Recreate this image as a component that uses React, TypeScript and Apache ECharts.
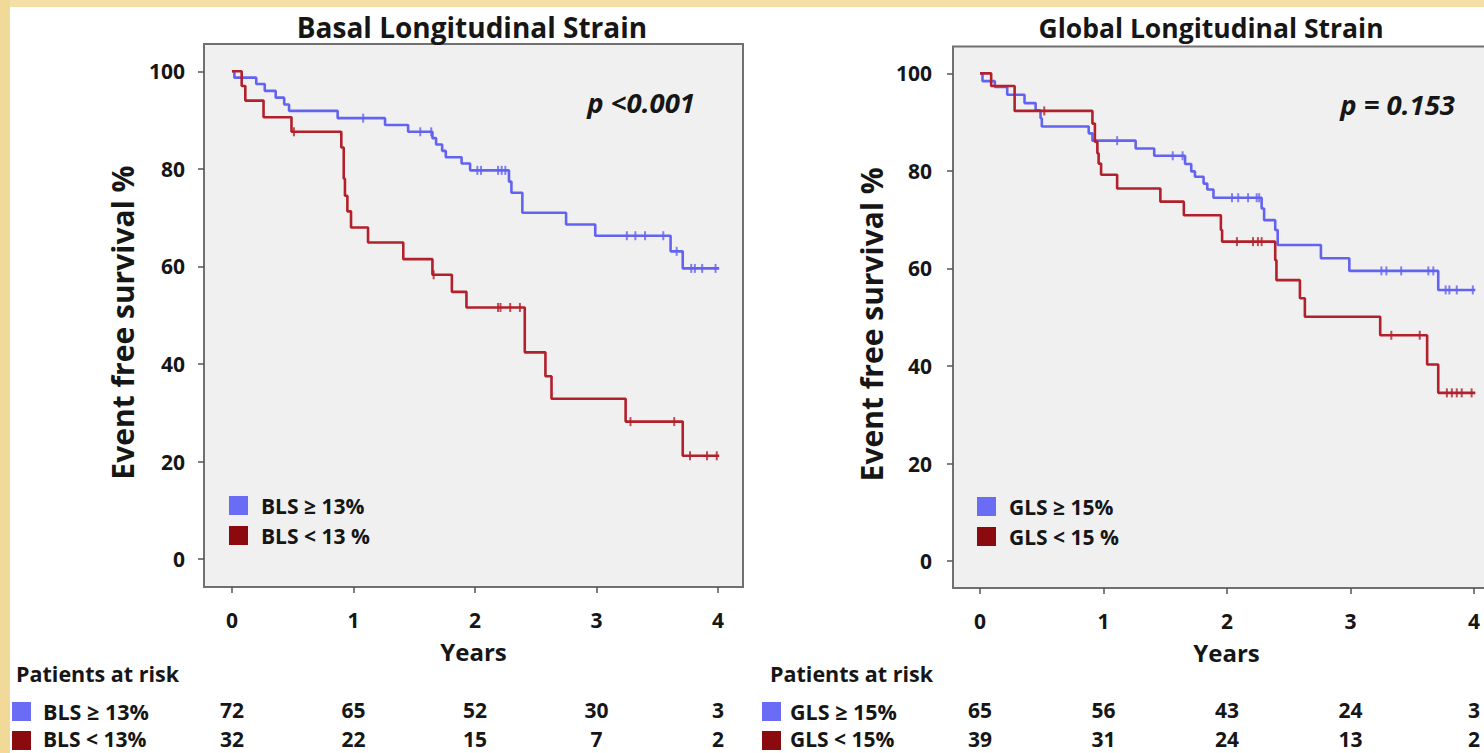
import React, { useEffect, useRef } from "react";
import * as echarts from "echarts";

const FONT = "'Open Sans', Lato, sans-serif";
const TEXT = "#161616";
const BLUE = "#6363f2";
const RED = "#b2202b";
const LEG_BLUE = "#6a6cf6";
const LEG_RED = "#8a0a0e";

const yearTicks = [0, 1, 2, 3, 4];
const survivalTicks = [0, 20, 40, 60, 80, 100];

// Basal Longitudinal Strain
const blsHighName = "BLS ≥ 13%";
const blsLowName = "BLS < 13 %";
const blsHighTime = [0, 0.02, 0.2, 0.27, 0.36, 0.43, 0.47, 0.87, 1.26, 1.45, 1.65, 1.68, 1.73, 1.76, 1.89, 1.96, 2.28, 2.3, 2.39, 2.75, 2.99, 3.61, 3.71, 4.01];
const blsHighSurv = [100, 98.7, 97.4, 96.0, 94.6, 93.2, 91.9, 90.4, 89.0, 87.6, 86.3, 85.0, 83.7, 82.4, 81.1, 79.7, 77.4, 75.1, 71.0, 68.6, 66.3, 63.1, 59.6, 59.6];
const blsHighCensor = [1.08, 1.55, 1.64, 2.02, 2.05, 2.19, 2.22, 2.25, 3.25, 3.32, 3.4, 3.55, 3.66, 3.78, 3.81, 3.87, 3.98];
const blsLowTime = [0, 0.08, 0.11, 0.26, 0.49, 0.9, 0.92, 0.93, 0.95, 0.98, 1.12, 1.41, 1.65, 1.81, 1.93, 2.41, 2.58, 2.63, 3.24, 3.71, 4.01];
const blsLowSurv = [100, 97.0, 94.0, 90.6, 87.6, 84.4, 78.0, 74.5, 71.3, 68.0, 64.9, 61.5, 58.3, 54.8, 51.6, 42.4, 37.5, 32.9, 28.2, 21.2, 21.2];
const blsLowCensor = [0.51, 1.66, 2.19, 2.21, 2.29, 2.37, 3.28, 3.64, 3.77, 3.91, 3.99];
const blsHighAtRisk = [72, 65, 52, 30, 3];
const blsLowAtRisk = [32, 22, 15, 7, 2];

// Global Longitudinal Strain
const glsHighName = "GLS ≥ 15%";
const glsLowName = "GLS < 15 %";
const glsHighTime = [0, 0.02, 0.12, 0.22, 0.36, 0.45, 0.49, 0.5, 0.88, 0.91, 1.26, 1.41, 1.66, 1.71, 1.74, 1.81, 1.84, 1.89, 2.28, 2.3, 2.39, 2.41, 2.76, 2.99, 3.71, 4.01];
const glsHighSurv = [100, 98.4, 97.2, 95.6, 93.9, 92.4, 90.8, 89.1, 87.7, 86.2, 84.6, 83.1, 81.4, 79.9, 78.8, 77.4, 76.2, 74.5, 72.3, 69.9, 67.9, 64.8, 62.1, 59.5, 55.6, 55.6];
const glsHighCensor = [1.11, 1.56, 1.64, 2.04, 2.09, 2.17, 2.24, 2.26, 3.25, 3.29, 3.41, 3.63, 3.67, 3.77, 3.8, 3.86, 3.99];
const glsLowTime = [0, 0.09, 0.28, 0.91, 0.93, 0.95, 0.96, 0.98, 1.11, 1.46, 1.65, 1.95, 1.96, 2.39, 2.4, 2.59, 2.63, 3.24, 3.62, 3.71, 4.01];
const glsLowSurv = [100, 97.4, 92.3, 89.7, 86.0, 83.6, 81.5, 79.2, 76.4, 73.7, 70.9, 67.9, 65.5, 61.7, 57.6, 53.9, 50.1, 46.3, 40.3, 34.5, 34.5];
const glsLowCensor = [0.52, 2.08, 2.21, 2.25, 2.28, 3.33, 3.56, 3.78, 3.82, 3.86, 3.9, 3.98];
const glsHighAtRisk = [65, 56, 43, 24, 3];
const glsLowAtRisk = [39, 31, 24, 13, 2];

function survAt(times: number[], surv: number[], t: number) {
  let s = surv[0];
  for (let i = 0; i < times.length; i++) if (times[i] <= t) s = surv[i];
  return s;
}

const boldText = (size: number) => ({
  fontFamily: FONT,
  fontWeight: "bold" as const,
  fontSize: size,
  color: TEXT,
});

function mainX(gridIndex: number, min: number, max: number) {
  return {
    type: "value",
    gridIndex,
    min,
    max,
    axisLine: { show: false, onZero: false },
    splitLine: { show: false },
    axisTick: { show: true, length: 6, customValues: yearTicks, lineStyle: { color: "#555", width: 1.5 } },
    axisLabel: { customValues: yearTicks, margin: 22, ...boldText(21) },
    name: "Years",
    nameLocation: "middle",
    nameGap: 52,
    nameTextStyle: boldText(24),
  };
}

function riskX(gridIndex: number, min: number, max: number, offset: number, counts: number[]) {
  return {
    type: "value",
    gridIndex,
    min,
    max,
    position: "bottom",
    offset,
    axisLine: { show: false, onZero: false },
    axisTick: { show: false },
    splitLine: { show: false },
    axisLabel: {
      customValues: yearTicks,
      margin: 0,
      lineHeight: 20,
      formatter: (v: number) => String(counts[yearTicks.indexOf(Math.round(v))]),
      ...boldText(21),
    },
  };
}

function mainY(gridIndex: number, min: number, max: number, margin: number) {
  return {
    type: "value",
    gridIndex,
    min,
    max,
    axisLine: { show: false, onZero: false },
    splitLine: { show: false },
    axisTick: { show: true, length: 6, customValues: survivalTicks, lineStyle: { color: "#555", width: 1.5 } },
    axisLabel: { customValues: survivalTicks, margin, ...boldText(21) },
    name: "Event free survival %",
    nameLocation: "middle",
    nameRotate: 90,
    nameGap: 67,
    nameTextStyle: { ...boldText(30), padding: [0, 14, 0, 0] },
  };
}

function kmSeries(name: string, axis: number, times: number[], surv: number[], color: string) {
  return {
    name,
    type: "line",
    xAxisIndex: axis,
    yAxisIndex: axis,
    step: "end",
    symbol: "none",
    data: times.map((t, i) => [t, surv[i]]),
    lineStyle: { color, width: 2.6 },
    itemStyle: { color },
    z: 3,
  };
}

function censorSeries(name: string, axis: number, times: number[], surv: number[], censor: number[], color: string) {
  return {
    name: name + " censored",
    type: "scatter",
    xAxisIndex: axis,
    yAxisIndex: axis,
    symbol: "rect",
    symbolSize: [2, 9],
    data: censor.map((t) => [t, survAt(times, surv, t)]),
    itemStyle: { color },
    silent: true,
    z: 4,
  };
}

function legendFor(names: string[], left: number, top: number) {
  return {
    orient: "vertical",
    left,
    top,
    icon: "rect",
    itemWidth: 19,
    itemHeight: 19,
    itemGap: 9,
    padding: 0,
    selectedMode: false,
    textStyle: { ...boldText(21), lineHeight: 19, padding: [0, 0, 0, 8] },
    data: [
      { name: names[0], itemStyle: { color: LEG_BLUE } },
      { name: names[1], itemStyle: { color: LEG_RED } },
    ],
  };
}

function gtext(text: string, x: number, y: number, size: number, align = "left", italic = false) {
  return {
    type: "text",
    x,
    y,
    style: {
      text,
      fill: TEXT,
      fontFamily: FONT,
      fontWeight: "bold",
      fontStyle: italic ? "italic" : "normal",
      fontSize: size,
      lineHeight: Math.round(size),
      align,
      verticalAlign: "middle",
    },
  };
}

function square(x: number, y: number, color: string) {
  return { type: "rect", shape: { x, y, width: 19, height: 19 }, style: { fill: color } };
}

const LX_MIN = -0.23;
const LX_MAX = 4.206;
const LY_MIN = -5.7;
const LY_MAX = 105.6;
const RX_MIN = -0.219;
const RX_MAX = 4.21;
const RY_MIN = -5.5;
const RY_MAX = 105.5;

const option = {
  animation: false,
  backgroundColor: "#ffffff",
  grid: [
    { left: 204, top: 44, width: 539, height: 543, outerBoundsMode: "none", show: true, backgroundColor: "#f0f0f0", borderColor: "#707070", borderWidth: 2 },
    { left: 953, top: 46.5, width: 547, height: 541.5, outerBoundsMode: "none", show: true, backgroundColor: "#f0f0f0", borderColor: "#707070", borderWidth: 2 },
  ],
  xAxis: [
    mainX(0, LX_MIN, LX_MAX),
    mainX(1, RX_MIN, RX_MAX),
    riskX(0, LX_MIN, LX_MAX, 113, blsHighAtRisk),
    riskX(0, LX_MIN, LX_MAX, 142, blsLowAtRisk),
    riskX(1, RX_MIN, RX_MAX, 112, glsHighAtRisk),
    riskX(1, RX_MIN, RX_MAX, 141, glsLowAtRisk),
  ],
  yAxis: [mainY(0, LY_MIN, LY_MAX, 19), mainY(1, RY_MIN, RY_MAX, 21)],
  legend: [
    legendFor([blsHighName, blsLowName], 229, 495),
    legendFor([glsHighName, glsLowName], 977, 496),
  ],
  series: [
    kmSeries(blsHighName, 0, blsHighTime, blsHighSurv, BLUE),
    censorSeries(blsHighName, 0, blsHighTime, blsHighSurv, blsHighCensor, BLUE),
    kmSeries(blsLowName, 0, blsLowTime, blsLowSurv, RED),
    censorSeries(blsLowName, 0, blsLowTime, blsLowSurv, blsLowCensor, RED),
    kmSeries(glsHighName, 1, glsHighTime, glsHighSurv, BLUE),
    censorSeries(glsHighName, 1, glsHighTime, glsHighSurv, glsHighCensor, BLUE),
    kmSeries(glsLowName, 1, glsLowTime, glsLowSurv, RED),
    censorSeries(glsLowName, 1, glsLowTime, glsLowSurv, glsLowCensor, RED),
  ],
  graphic: [
    { type: "rect", shape: { x: 0, y: 0, width: 1484, height: 7 }, style: { fill: "#f4e0a6" } },
    { type: "rect", shape: { x: 0, y: 0, width: 10, height: 753 }, style: { fill: "#f1d999" } },
    gtext("Basal Longitudinal Strain", 472, 27, 28, "center"),
    gtext("Global Longitudinal Strain", 1211, 28, 26.5, "center"),
    gtext("p <0.001", 695, 102, 27.5, "right", true),
    gtext("p = 0.153", 1455, 104, 27.5, "right", true),
    gtext("Patients at risk", 16, 673, 21.5),
    square(12, 702, LEG_BLUE),
    gtext("BLS ≥ 13%", 43, 711, 21.5),
    square(12, 731, LEG_RED),
    gtext("BLS < 13%", 43, 738.5, 21),
    gtext("Patients at risk", 770, 673, 21.5),
    square(762, 702, LEG_BLUE),
    gtext("GLS ≥ 15%", 790, 711, 21.5),
    square(762, 731, LEG_RED),
    gtext("GLS < 15%", 790, 738.5, 21),
  ],
};

export default function App() {
  const ref = useRef<HTMLDivElement>(null);
  useEffect(() => {
    if (!ref.current) return;
    const chart = echarts.init(ref.current, null, { renderer: "svg", width: 1484, height: 753 });
    chart.setOption(option as any);
    return () => chart.dispose();
  }, []);
  return (
    <div
      ref={ref}
      style={{ position: "fixed", left: 0, top: 0, width: 1484, height: 753, background: "#ffffff" }}
    />
  );
}
